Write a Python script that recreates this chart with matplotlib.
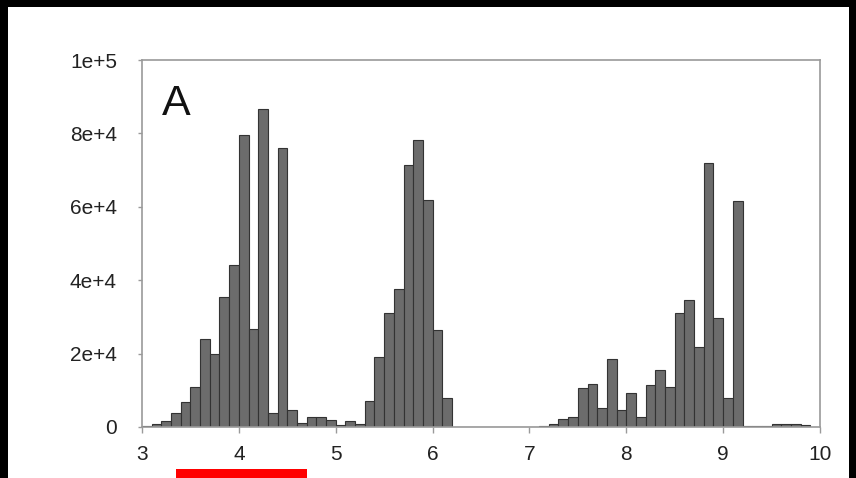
import numpy as np
import matplotlib
matplotlib.use("Agg")
from matplotlib import pyplot as plt
from matplotlib.patches import Rectangle
from matplotlib.ticker import FuncFormatter

# histogram: bins of width 0.1 from 3.0 to 10.0
bin_start = 3.0
bin_width = 0.1
counts = [
    300, 700, 1600, 3700, 6900, 11000, 23900, 19900, 35300, 44200,      # 3.0 - 3.9
    79600, 26600, 86600, 3800, 76000, 4600, 1200, 2800, 2600, 2000,     # 4.0 - 4.9
    600, 1500, 900, 7200, 19200, 31000, 37500, 71500, 78300, 61900,     # 5.0 - 5.9
    26500, 7800, 0, 0, 0, 0, 0, 0, 0, 0,                                # 6.0 - 6.9
    100, 300, 700, 2200, 2800, 10700, 11700, 5300, 18500, 4600,         # 7.0 - 7.9
    9200, 2800, 11400, 15500, 10800, 31000, 34600, 21900, 71900, 29600, # 8.0 - 8.9
    7800, 61700, 400, 400, 400, 700, 900, 900, 600, 0,                  # 9.0 - 9.9
]
x_ticks = [3, 4, 5, 6, 7, 8, 9, 10]
y_ticks = [0, 20000, 40000, 60000, 80000, 100000]
y_labels = ["0", "2e+4", "4e+4", "6e+4", "8e+4", "1e+5"]

plt.rcParams['font.family'] = ['Liberation Sans', 'DejaVu Sans']

fig = plt.figure(figsize=(8.56, 4.78), dpi=100)
fig.patch.set_facecolor("black")
# white panel inside the black border
fig.patches.append(Rectangle((8 / 856, 0), 841 / 856, 471 / 478,
                             transform=fig.transFigure, facecolor="white",
                             edgecolor="none", zorder=-5))

ax = fig.add_axes([142 / 856, 51 / 478, 678 / 856, 367 / 478])
ax.set_zorder(2)
ax.set_facecolor("white")

edges = bin_start + bin_width * np.arange(len(counts))
ax.bar(edges, counts, width=bin_width, align="edge",
       color="#6c6c6c", edgecolor="#333333", linewidth=0.8, zorder=2)

ax.set_xlim(3, 10)
ax.set_ylim(0, 100000)
ax.set_xticks(x_ticks)
ax.set_yticks(y_ticks)
ax.yaxis.set_major_formatter(FuncFormatter(lambda v, p: y_labels[y_ticks.index(int(round(v)))]
                                           if int(round(v)) in y_ticks else ""))

for s in ax.spines.values():
    s.set_color("#9a9a9a")
    s.set_linewidth(1.2)

ax.tick_params(axis="y", direction="out", length=3, width=1, color="#9a9a9a",
               pad=15, labelsize=15, labelcolor="#222222")
ax.tick_params(axis="x", direction="out", length=4, width=1, color="#9a9a9a",
               pad=9, labelsize=15, labelcolor="#222222")

ax.text(0.03, 0.85, "A", transform=ax.transAxes, fontsize=31,
        color="#111111", ha="left", va="baseline")

# red bar under the axis
fig.patches.append(Rectangle((176 / 856, 0), 131 / 856, 9 / 478,
                             transform=fig.transFigure, facecolor="#ff0000",
                             edgecolor="none", zorder=3))

fig.savefig("out.png", dpi=100, facecolor=fig.get_facecolor())
